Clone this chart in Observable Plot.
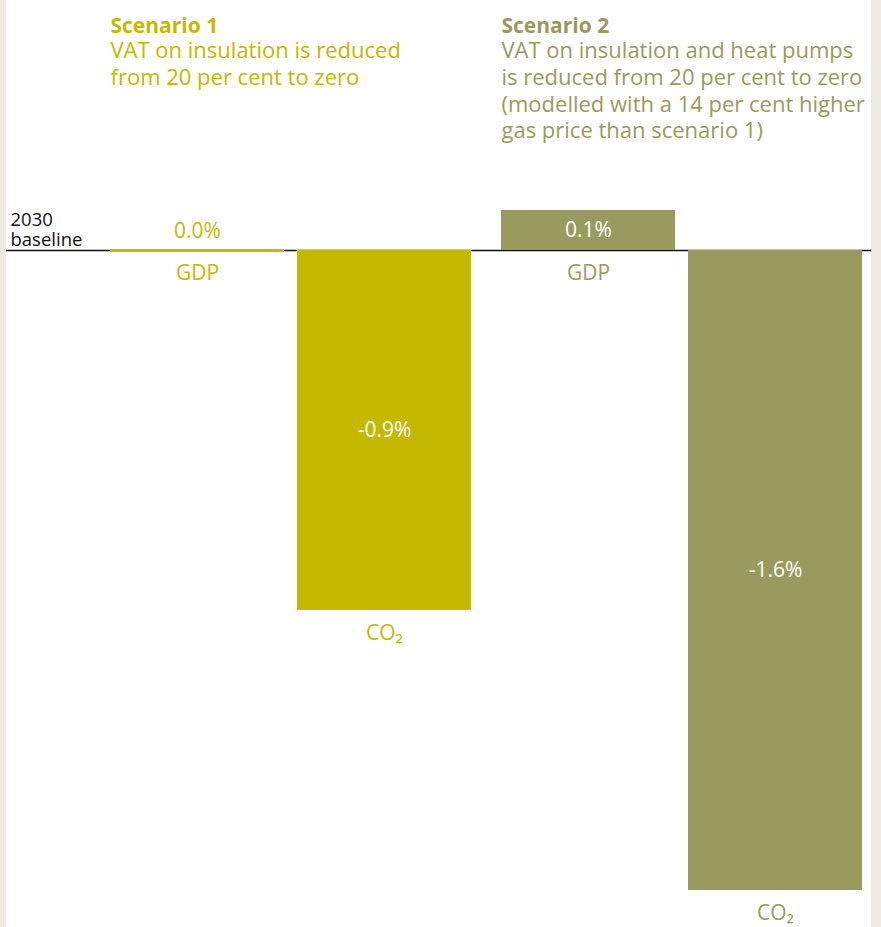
<!DOCTYPE html>
<html>
<head>
<meta charset="utf-8">
<script src="https://cdn.jsdelivr.net/npm/d3@7"></script>
<script src="https://cdn.jsdelivr.net/npm/@observablehq/plot@0.6"></script>
<style>
  html, body { margin: 0; padding: 0; background: #ebebe4; }
  #wrap { margin-left: 6px; width: 865px; height: 927px; position: relative; background: #ffffff; }
  #wrap svg { display: block; position: absolute; left: 0; top: 0; }
</style>
</head>
<body>
<div id="wrap"></div>
<script>
// ---- data ----
const scenarios = ["Scenario 1", "Scenario 2"];
const subtitles = [
  "VAT on insulation is reduced\nfrom 20 per cent to zero",
  "VAT on insulation and heat pumps\nis reduced from 20 per cent to zero\n(modelled with a 14 per cent higher\ngas price than scenario 1)"
];
const measures = ["GDP", "CO₂"];
const gdpValues = [0.0, 0.1];
const co2Values = [-0.9, -1.6];
const valueLabels = [["0.0%", "-0.9%"], ["0.1%", "-1.6%"]];
const colors = ["#c4b800", "#999b5e"];
const baselineLabel = "2030\nbaseline";

// ---- derived table ----
const rows = [];
scenarios.forEach((s, i) => {
  rows.push({scenario: s, measure: measures[0], value: gdpValues[i], label: valueLabels[i][0], color: colors[i]});
  rows.push({scenario: s, measure: measures[1], value: co2Values[i], label: valueLabels[i][1], color: colors[i]});
});
const titles = scenarios.map((s, i) => ({scenario: s, title: s, sub: subtitles[i], color: colors[i]}));
const zeroRows = rows.filter(d => d.value === 0);
const nonZeroRows = rows.filter(d => d.value !== 0);

const font = "'Open Sans', sans-serif";
const W = 865, H = 927;
const yScale = {domain: [-1.6925, 0.625], axis: null};

// baseline layer (drawn underneath)
const base = Plot.plot({
  width: W, height: H,
  marginLeft: 0, marginRight: 0, marginTop: 0, marginBottom: 0,
  style: {fontFamily: font, background: "transparent"},
  y: yScale,
  marks: [
    Plot.ruleY([0], {stroke: "#111111", strokeWidth: 1.3}),
    Plot.text([baselineLabel], {
      frameAnchor: "left", y: 0, text: d => d,
      textAnchor: "start", lineAnchor: "bottom", dx: 4, dy: -5, fill: "#111111", fontSize: 18.5, lineHeight: 1.08
    })
  ]
});

const plot = Plot.plot({
  width: W, height: H,
  marginLeft: 0, marginRight: 0, marginTop: 0, marginBottom: 0,
  style: {fontFamily: font, background: "transparent"},
  fx: {domain: scenarios, paddingInner: 0.0766, paddingOuter: 0.143, align: 0.92, axis: null},
  x: {domain: measures, paddingInner: 0.072, paddingOuter: 0, axis: null},
  y: yScale,
  marks: [
    Plot.barY(rows, {fx: "scenario", x: "measure", y1: 0, y2: "value", fill: "color"}),
    Plot.tickY(zeroRows, {fx: "scenario", x: "measure", y: "value", stroke: "color", strokeWidth: 3}),
    Plot.text(nonZeroRows, {
      fx: "scenario", x: "measure", y: d => d.value / 2,
      text: "label", fill: "#ffffff", fontSize: 21
    }),
    Plot.text(zeroRows, {
      fx: "scenario", x: "measure", y: "value",
      text: "label", fill: "color", dy: -19, fontSize: 21
    }),
    Plot.text(rows, {
      fx: "scenario", x: "measure", y: d => Math.min(d.value, 0),
      text: "measure", fill: "color", dy: 23, fontSize: 21
    }),
    Plot.text(titles, {
      fx: "scenario", frameAnchor: "top-left", text: "title", fill: "color",
      textAnchor: "start", lineAnchor: "top", dy: 17.5, fontSize: 21, fontWeight: "bold"
    }),
    Plot.text(titles, {
      fx: "scenario", frameAnchor: "top-left", text: "sub", fill: "color",
      textAnchor: "start", lineAnchor: "top", dy: 39, fontSize: 22, lineHeight: 1.21
    })
  ]
});
const wrap = document.getElementById("wrap");
wrap.appendChild(base);
wrap.appendChild(plot);
</script>
</body>
</html>
